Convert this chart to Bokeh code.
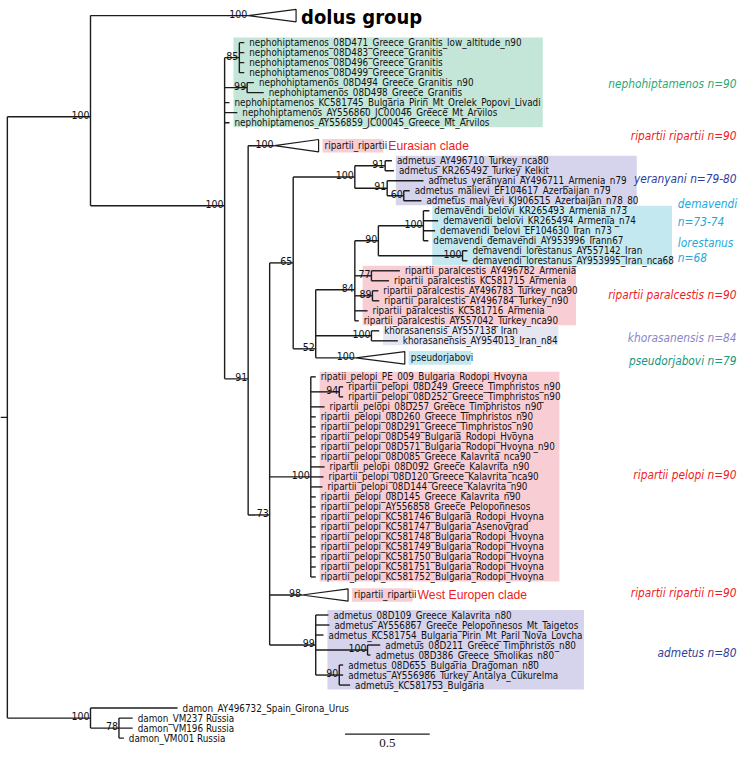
from collections import defaultdict
from bokeh.plotting import figure
from bokeh.models import Range1d
from bokeh.core.properties import value
from bokeh.embed import file_html
from bokeh.resources import INLINE

# ---------------- data (branch lengths in substitutions/site, rows = leaf slots) ----------------
node_id = ["root", "A", "B", "n85", "n99", "C", "n73", "n65", "y100", "y91a", "y91b", "y60",
           "n52", "n84", "n90", "dem100", "lor100", "p77", "p89", "kh100",
           "pel100", "pel94", "ad99", "ad100", "ad90", "dam", "dam78"]
node_parent = [None, "root", "A", "B", "B", "B", "C", "n73", "n65", "y100", "y100", "y91b",
               "n65", "n52", "n84", "n90", "n90", "n84", "n84", "n52",
               "n73", "pel100", "n73", "ad99", "ad99", "root", "dam"]
node_length = [0.0, 0.491, 0.792, 0.087, 0.133, 0.139, 0.127, 0.139, 0.364, 0.179, 0.191, 0.098,
               0.133, 0.231, 0.139, 0.266, 0.497, 0.098, 0.104, 0.329,
               0.243, 0.168, 0.272, 0.306, 0.139, 0.491, 0.168]
node_support = ["", "100", "100", "85", "99", "91", "73", "65", "100", "91", "91", "60",
                "52", "84", "90", "100", "100", "77", "89", "100",
                "100", "94", "99", "100", "90", "100", "78"]
node_row = [None, 7.4, 16.3, None, None, 33.6, 47.2, None, None, None, None, None,
            30.6, 24.7, None, None, None, None, None, None,
            None, None, None, None, None, None, None]

leaf_name = [
    "nephohiptamenos_08D471_Greece_Granitis_low_altitude_n90",
    "nephohiptamenos_08D483_Greece_Granitis",
    "nephohiptamenos_08D496_Greece_Granitis",
    "nephohiptamenos_08D499_Greece_Granitis",
    "nephohiptamenos_08D494_Greece_Granitis_n90",
    "nephohiptamenos_08D498_Greece_Granitis",
    "nephohiptamenos_KC581745_Bulgaria_Pirin_Mt_Orelek_Popovi_Livadi",
    "nephohiptamenos_AY556860_JC00046_Greece_Mt_Arvilos",
    "nephohiptamenos_AY556859_JC00045_Greece_Mt_Arvilos",
    "admetus_AY496710_Turkey_nca80",
    "admetus_KR265492_Turkey_Kelkit",
    "admetus_yeranyani_AY496711_Armenia_n79",
    "admetus_malievi_EF104617_Azerbaijan_n79",
    "admetus_malyevi_KJ906515_Azerbaijan_n78_80",
    "demavendi_belovi_KR265493_Armenia_n73",
    "demavendi_belovi_KR265494_Armenia_n74",
    "demavendi_belovi_EF104630_Iran_n73",
    "demavendi_demavendi_AY953996_Irann67",
    "demavendi_lorestanus_AY557142_Iran",
    "demavendi_lorestanus_AY953995_Iran_nca68",
    "ripartii_paralcestis_AY496782_Armenia",
    "ripartii_paralcestis_KC581715_Armenia",
    "ripartii_paralcestis_AY496783_Turkey_nca90",
    "ripartii_paralcestis_AY496784_Turkey_n90",
    "ripartii_paralcestis_KC581716_Armenia",
    "ripartii_paralcestis_AY557042_Turkey_nca90",
    "khorasanensis_AY557138_Iran",
    "khorasanensis_AY954013_Iran_n84",
    "ripatii_pelopi_PE_009_Bulgaria_Rodopi_Hvoyna",
    "ripartii_pelopi_08D249_Greece_Timphristos_n90",
    "ripartii_pelopi_08D252_Greece_Timphristos_n90",
    "ripartii_pelopi_08D257_Greece_Timphristos_n90",
    "ripartii_pelopi_08D260_Greece_Timphristos_n90",
    "ripartii_pelopi_08D291_Greece_Timphristos_n90",
    "ripartii_pelopi_08D549_Bulgaria_Rodopi_Hvoyna",
    "ripartii_pelopi_08D571_Bulgaria_Rodopi_Hvoyna_n90",
    "ripartii_pelopi_08D085_Greece_Kalavrita_nca90",
    "ripartii_pelopi_08D092_Greece_Kalavrita_n90",
    "ripartii_pelopi_08D120_Greece_Kalavrita_nca90",
    "ripartii_pelopi_08D144_Greece_Kalavrita_n90",
    "ripartii_pelopi_08D145_Greece_Kalavrita_n90",
    "ripartii_pelopi_AY556858_Greece_Peloponnesos",
    "ripartii_pelopi_KC581746_Bulgaria_Rodopi_Hvoyna",
    "ripartii_pelopi_KC581747_Bulgaria_Asenovgrad",
    "ripartii_pelopi_KC581748_Bulgaria_Rodopi_Hvoyna",
    "ripartii_pelopi_KC581749_Bulgaria_Rodopi_Hvoyna",
    "ripartii_pelopi_KC581750_Bulgaria_Rodopi_Hvoyna",
    "ripartii_pelopi_KC581751_Bulgaria_Rodopi_Hvoyna",
    "ripartii_pelopi_KC581752_Bulgaria_Rodopi_Hvoyna",
    "admetus_08D109_Greece_Kalavrita_n80",
    "admetus_AY556867_Greece_Peloponnesos_Mt_Taigetos",
    "admetus_KC581754_Bulgaria_Pirin_Mt_Paril_Nova_Lovcha",
    "admetus_08D211_Greece_Timphristos_n80",
    "admetus_08D386_Greece_Smolikas_n80",
    "admetus_08D655_Bulgaria_Dragoman_n80",
    "admetus_AY556986_Turkey_Antalya_Cukurelma",
    "admetus_KC581753_Bulgaria",
    "damon_AY496732_Spain_Girona_Urus",
    "damon_VM237 Russia",
    "damon_VM196 Russia",
    "damon_VM001 Russia",
]
leaf_parent = (["n85"] * 4 + ["n99"] * 2 + ["B"] * 3
               + ["y91a", "y91a", "y91b", "y60", "y60"]
               + ["dem100"] * 4 + ["lor100"] * 2
               + ["p77", "p77", "p89", "p89", "n84", "n84"]
               + ["kh100", "kh100"]
               + ["pel100", "pel94", "pel94"] + ["pel100"] * 18
               + ["ad99"] * 3 + ["ad100"] * 2 + ["ad90"] * 3
               + ["dam", "dam78", "dam78", "dam78"])
leaf_length = [0.029, 0.029, 0.029, 0.029, 0.040, 0.098, 0.029, 0.075, 0.029,
               0.040, 0.052, 0.214, 0.035, 0.104,
               0.035, 0.087, 0.069, 0.029, 0.029, 0.029,
               0.168, 0.104, 0.035, 0.040, 0.075, 0.023,
               0.046, 0.156,
               0.029, 0.023, 0.023, 0.081, 0.029, 0.029, 0.029, 0.029, 0.029, 0.081, 0.075,
               0.069, 0.029, 0.029, 0.029, 0.029, 0.029, 0.029, 0.029, 0.029, 0.029,
               0.075, 0.081, 0.046, 0.075, 0.017, 0.023, 0.023, 0.064,
               0.514, 0.081, 0.081, 0.029]
leaf_row = [0, 1, 2, 3, 4, 5, 6, 7, 8,
            11.8, 12.8, 13.8, 14.8, 15.8,
            16.8, 17.8, 18.8, 19.8, 20.8, 21.8,
            22.8, 23.8, 24.8, 25.8, 26.8, 27.8,
            28.8, 29.8,
            33.4, 34.4, 35.4, 36.4, 37.4, 38.4, 39.4, 40.4, 41.4, 42.4, 43.4,
            44.4, 45.4, 46.4, 47.4, 48.4, 49.4, 50.4, 51.4, 52.4, 53.4,
            57.2, 58.2, 59.2, 60.2, 61.2, 62.2, 63.2, 64.2,
            66.5, 67.5, 68.5, 69.5]

# collapsed clades
coll_name = ["dolus group", "ripartii_ripartii", "pseudorjabovi", "ripartii_ripartii"]
coll_parent = ["A", "C", "n52", "n73"]
coll_length = [0.931, 0.156, 0.237, 0.191]
coll_depth = [0.283, 0.260, 0.289, 0.272]
coll_support = ["100", "100", "100", "98"]
coll_row = [-2.7, 10.3, 31.5, 55.2]
coll_note = ["", "Eurasian clade", "", "West Europen clade"]
coll_label_bg = [None, "#f8cdd4", "#c4e8ef", "#f8cdd4"]
coll_label_end = [None, 2.220, 2.740, 2.393]

# shaded clades (leaf index ranges)
box_first_leaf = [0, 9, 14, 20, 26, 28, 49]
box_last_leaf = [8, 13, 19, 25, 27, 48, 56]
box_right = [3.162, 3.717, 3.925, 3.358, 3.254, 3.260, 3.405]
box_color = ["#c4e6d9", "#d6d4ec", "#c4e8ef", "#f8cdd4", "#e6e6f3", "#f8cdd4", "#d6d4ec"]

# taxon annotations on the right
side_text = ["nephohiptamenos n=90", "ripartii ripartii n=90", "yeranyani n=79-80",
             "ripartii paralcestis n=90", "khorasanensis n=84", "pseudorjabovi n=79",
             "ripartii pelopi n=90", "ripartii ripartii n=90", "admetus n=80"]
side_row = [4.1, 9.3, 13.6, 25.2, 29.5, 31.8, 43.2, 55.0, 61.0]
side_color = ["#2aa876", "#ee1c25", "#2f3d9c", "#ee1c25", "#8a86c6", "#17967f",
              "#ee1c25", "#ee1c25", "#2f3d9c"]
side2_text = ["demavendi", "n=73-74", "lorestanus", "n=68"]
side2_row = [16.1, 17.9, 20.0, 21.5]
side2_color = "#22a9dc"

scale_len = 0.5

# ---------------- layout ----------------
PX = 1 / 173.0
parent, blen, row = {}, {}, {}
for i, n in enumerate(node_id):
    parent[n] = node_parent[i]
    blen[n] = node_length[i]
    if node_row[i] is not None:
        row[n] = node_row[i]
leaf_ids = ["L%d" % i for i in range(len(leaf_name))]
for i, n in enumerate(leaf_ids):
    parent[n] = leaf_parent[i]
    blen[n] = leaf_length[i]
    row[n] = leaf_row[i]
coll_ids = ["K%d" % i for i in range(len(coll_name))]
for i, n in enumerate(coll_ids):
    parent[n] = coll_parent[i]
    blen[n] = coll_length[i]
    row[n] = coll_row[i]

children = defaultdict(list)
for n, pa in parent.items():
    if pa is not None:
        children[pa].append(n)

depth = {}
def get_depth(n):
    if n not in depth:
        depth[n] = 0.0 if parent[n] is None else get_depth(parent[n]) + blen[n]
    return depth[n]

def get_row(n):
    if n not in row:
        rs = [get_row(c) for c in children[n]]
        row[n] = (min(rs) + max(rs)) / 2
    return row[n]

for n in parent:
    get_depth(n)
    get_row(n)

X0, X1 = -7 * PX, 749 * PX
p = figure(width=740, height=752, x_range=Range1d(X0, X1), y_range=Range1d(70.94, -4.21),
           output_backend="svg", toolbar_location=None, min_border=0,
           x_axis_location=None, y_axis_location=None)
p.xgrid.visible = False
p.ygrid.visible = False
p.outline_line_color = None
p.background_fill_color = "white"
p.border_fill_color = "white"

NARROW = value("'DejaVu Sans Condensed', 'Liberation Sans', sans-serif")
SANS = value("Liberation Sans")
LINE = "#1c1c1c"

# shaded boxes
bl, br, bt, bb = [], [], [], []
for i in range(len(box_first_leaf)):
    ids = leaf_ids[box_first_leaf[i]:box_last_leaf[i] + 1]
    bl.append(min(depth[n] for n in ids) + 4 * PX)
    br.append(box_right[i])
    bt.append(leaf_row[box_first_leaf[i]] - 0.5)
    bb.append(leaf_row[box_last_leaf[i]] + 0.45)
p.quad(left=bl, right=br, top=bt, bottom=bb, fill_color=box_color, line_color=None)

# label backgrounds of collapsed clades
ql, qr, qt, qb, qc = [], [], [], [], []
for i, n in enumerate(coll_ids):
    if coll_label_bg[i]:
        ql.append(depth[n] + coll_depth[i] + 4 * PX)
        qr.append(coll_label_end[i])
        qt.append(row[n] - 0.68)
        qb.append(row[n] + 0.68)
        qc.append(coll_label_bg[i])
p.quad(left=ql, right=qr, top=qt, bottom=qb, fill_color=qc, line_color=None)

# branches
hx0, hx1, hy = [], [], []
for n, pa in parent.items():
    if pa is not None:
        hx0.append(depth[pa]); hx1.append(depth[n]); hy.append(row[n])
hx0.append(X0); hx1.append(0.0); hy.append(row["root"])
p.segment(x0=hx0, x1=hx1, y0=hy, y1=hy, line_color=LINE, line_width=1.4)
vx, vy0, vy1 = [], [], []
for n in node_id:
    rs = [row[c] for c in children[n]]
    vx.append(depth[n]); vy0.append(min(rs)); vy1.append(max(rs))
p.segment(x0=vx, x1=vx, y0=vy0, y1=vy1, line_color=LINE, line_width=1.4)

# collapsed triangles
txs, tys = [], []
for i, n in enumerate(coll_ids):
    a = depth[n]
    txs.append([a, a + coll_depth[i], a + coll_depth[i]])
    tys.append([row[n], row[n] - 0.62, row[n] + 0.62])
p.patches(xs=txs, ys=tys, fill_color="white", line_color=LINE, line_width=1.2)

# support values
sx, sy, st = [], [], []
for i, n in enumerate(node_id):
    if node_support[i]:
        sx.append(depth[n]); sy.append(row[n]); st.append(node_support[i])
for i, n in enumerate(coll_ids):
    sx.append(depth[n]); sy.append(row[n]); st.append(coll_support[i])
p.text(x=sx, y=sy, text=st, text_align="right", text_baseline="alphabetic",
       x_offset=-1, y_offset=-2, text_font=NARROW, text_font_size="10.5px", text_color="#111111")

# leaf labels
p.text(x=[depth[n] for n in leaf_ids], y=[row[n] for n in leaf_ids], text=leaf_name,
       text_align="left", text_baseline="middle", x_offset=5,
       text_font=NARROW, text_font_size="9.8px", text_color="#111111")

# collapsed clade labels
for i, n in enumerate(coll_ids):
    xb = depth[n] + coll_depth[i]
    if i == 0:
        p.text(x=[xb], y=[row[n]], text=[coll_name[i]], text_align="left", text_baseline="middle",
               x_offset=5, y_offset=1, text_font=NARROW, text_font_style="bold",
               text_font_size="20px", text_color="#000000")
    else:
        p.text(x=[xb], y=[row[n]], text=[coll_name[i]], text_align="left", text_baseline="middle",
               x_offset=6, text_font=NARROW, text_font_size="9.8px", text_color="#111111")
        if coll_note[i]:
            p.text(x=[coll_label_end[i]], y=[row[n]], text=[coll_note[i]], text_align="left",
                   text_baseline="middle", x_offset=5, text_font=SANS,
                   text_font_size="12.2px", text_color="#ee1c25")

# right-hand annotations
p.text(x=[745 * PX] * len(side_text), y=side_row, text=side_text, text_align="right",
       text_baseline="middle", text_font=NARROW, text_font_style="italic",
       text_font_size="11.8px", text_color=side_color)
p.text(x=[685 * PX] * len(side2_text), y=side2_row, text=side2_text, text_align="left",
       text_baseline="middle", text_font=NARROW, text_font_style="italic",
       text_font_size="11.8px", text_color=side2_color)

# scale bar
sb_x = 345 * PX
p.segment(x0=[sb_x], x1=[sb_x + scale_len], y0=[69.1], y1=[69.1], line_color=LINE, line_width=1.2)
p.text(x=[sb_x + scale_len / 2], y=[70.0], text=["%g" % scale_len], text_align="center",
       text_baseline="middle", text_font=value("Liberation Serif"), text_font_size="13px",
       text_color="#111111")

open("out.html", "w").write(file_html(p, INLINE))
